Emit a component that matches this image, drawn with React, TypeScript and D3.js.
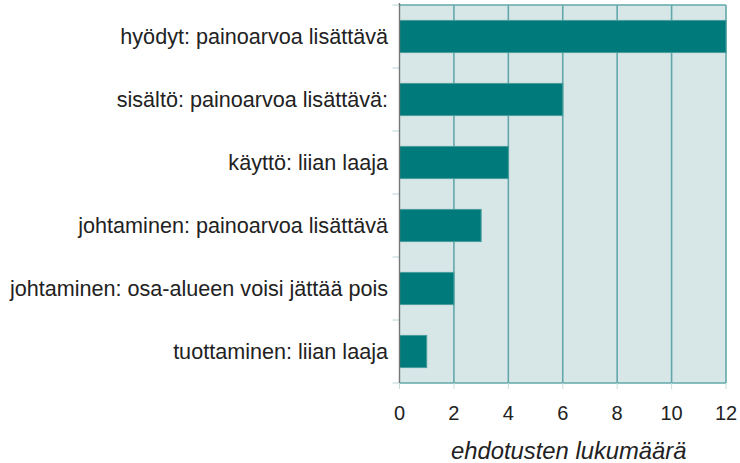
import React from "react";
import * as d3 from "d3";

const categories = [
  "hyödyt: painoarvoa lisättävä",
  "sisältö: painoarvoa lisättävä:",
  "käyttö: liian laaja",
  "johtaminen: painoarvoa lisättävä",
  "johtaminen: osa-alueen voisi jättää pois",
  "tuottaminen: liian laaja",
];
const values = [12, 6, 4, 3, 2, 1];
const xTicks = [0, 2, 4, 6, 8, 10, 12];
const xTitle = "ehdotusten lukumäärä";

export default function App() {
  const W = 740, H = 463;
  const left = 399.5, right = 726, top = 5, bottom = 383;
  const x = d3.scaleLinear().domain([0, 12]).range([left, right]);
  const y = d3.scaleBand<string>().domain(categories).range([top, bottom]).paddingInner(0.49).paddingOuter(0.245);
  const band = d3.scaleBand<string>().domain(categories).range([top, bottom]);
  const font = "'Liberation Sans', Arial, Helvetica, sans-serif";
  return (
    <svg width={W} height={H} style={{ position: "absolute", left: 0, top: 0 }} fontFamily={font}>
      <rect x={left} y={top} width={right - left} height={bottom - top} fill="#d7e6e7" />
      {xTicks.slice(1).map((t) => (
        <line key={t} x1={x(t)} x2={x(t)} y1={top} y2={bottom} stroke="#62a8aa" strokeWidth={1.6} />
      ))}
      <line x1={left} x2={right} y1={top} y2={top} stroke="#62a8aa" strokeWidth={1.6} />
      <line x1={left} x2={right} y1={bottom} y2={bottom} stroke="#62a8aa" strokeWidth={1.6} />
      {categories.map((c) => (
        <line key={"t" + c} x1={left - 7} x2={left} y1={band(c)!} y2={band(c)!} stroke="#b9d4d6" strokeWidth={1} />
      ))}
      <line x1={left - 7} x2={left} y1={bottom} y2={bottom} stroke="#b9d4d6" strokeWidth={1} />
      {xTicks.map((t) => (
        <line key={"xt" + t} x1={x(t)} x2={x(t)} y1={bottom} y2={bottom + 6} stroke="#c9dcdd" strokeWidth={1} />
      ))}
      {categories.map((c, i) => (
        <rect key={c} x={x(0)} y={y(c)!} width={x(values[i]) - x(0)} height={y.bandwidth()} fill="#007a7a" stroke="#4a9c9c" strokeWidth={1} />
      ))}
      <line x1={left} x2={left} y1={top - 2} y2={bottom} stroke="#777" strokeWidth={1.4} />
      {categories.map((c) => (
        <text key={"l" + c} x={388} y={y(c)! + y.bandwidth() / 2} dy="0.35em" textAnchor="end" fontSize={21.6} fill="#222">
          {c}
        </text>
      ))}
      {xTicks.map((t) => (
        <text key={"xl" + t} x={x(t)} y={413} dy="0.35em" textAnchor="middle" fontSize={20} fill="#222">
          {t}
        </text>
      ))}
      <text x={(left + right) / 2 + 6} y={451} dy="0.35em" textAnchor="middle" fontSize={23.8} fontStyle="italic" fill="#222">
        {xTitle}
      </text>
    </svg>
  );
}
